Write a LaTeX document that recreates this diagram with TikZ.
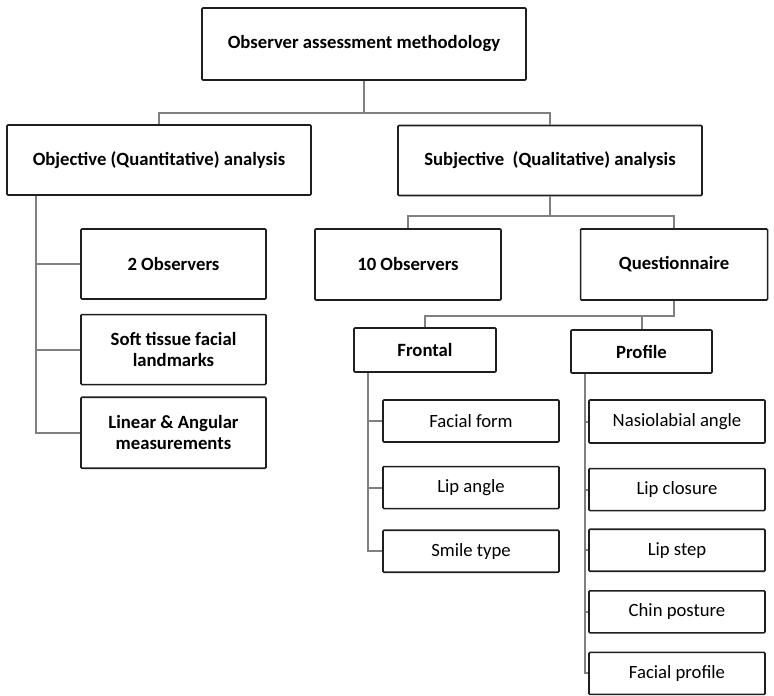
\documentclass[tikz,border=0pt]{standalone}
\usepackage{fontspec}
\setmainfont{Carlito}
\usepackage{tikz}
\usetikzlibrary{positioning}
\definecolor{linkgray}{RGB}{128,128,128}
\definecolor{boxline}{RGB}{30,30,30}
\tikzstyle{basebox} = [draw=boxline, line width=1.6pt, rounded corners=1pt, align=center, inner sep=2pt, font=\fontsize{18.7}{20.5}\selectfont]
\tikzstyle{topbox} = [basebox, font=\fontsize{18.7}{20.5}\selectfont\bfseries, minimum width=304pt, minimum height=70pt]
\tikzstyle{midbox} = [basebox, font=\fontsize{18.7}{20.5}\selectfont\bfseries, minimum width=186pt, minimum height=71pt]
\tikzstyle{smallbox} = [basebox, font=\fontsize{18.7}{20.5}\selectfont\bfseries, minimum width=142pt, minimum height=44pt]
\tikzstyle{leaf} = [basebox, minimum width=176pt, minimum height=42pt]
\tikzstyle{link} = [draw=linkgray, line width=2pt]

\begin{document}
\begin{tikzpicture}[x=1pt, y=-1pt]
\useasboundingbox (0,0) rectangle (774,696);
% upper levels
\node (root) [topbox, minimum width=324pt, minimum height=72pt] at (364,44) {Observer assessment methodology};
\node (obj) [topbox] at (159,160) {Objective (Quantitative) analysis};
\node (subj) [topbox] at (550,160.5) {Subjective\ \ (Qualitative) analysis};
% objective branch
\node (obs2) [midbox, minimum width=185pt, minimum height=70pt] at (173.5,264) {2 Observers};
\node (soft) [midbox, minimum width=185pt, minimum height=70pt, below=14pt of obs2] {Soft tissue facial\\landmarks};
\node (linear) [midbox, minimum width=185pt, below=11pt of soft] {Linear \& Angular\\measurements};
% subjective branch
\node (obs10) [midbox] at (408,264.5) {10 Observers};
\node (quest) [midbox, minimum width=187pt, right=78pt of obs10] {Questionnaire};
\node (frontal) [smallbox] at (425,350) {Frontal};
\node (profile) [smallbox, minimum width=141pt, minimum height=43pt] at (641.5,351.5) {Profile};
% frontal items
\node (facial) [leaf] at (471,421) {Facial form};
\node (lipang) [leaf, below=23pt of facial] {Lip angle};
\node (smile) [leaf, below=20pt of lipang] {Smile type};
% profile items
\node (nasio) [leaf, minimum height=43pt] at (677,421.5) {Nasiolabial angle};
\node (lipclo) [leaf, below=24pt of nasio] {Lip closure};
\node (lipstep) [leaf, below=17pt of lipclo] {Lip step};
\node (chin) [leaf, below=18pt of lipstep] {Chin posture};
\node (facprof) [leaf, below=18pt of chin] {Facial profile};
% connectors
\draw [link] (root.south) -- ++(0,32) -| (obj.north);
\draw [link] (root.south) -- ++(0,32) -| (subj.north);
\draw [link] (subj.south) -- ++(0,19.5) -| (obs10.north);
\draw [link] (subj.south) -- ++(0,19.5) -| (quest.north);
\draw [link] (quest.south) -- ++(0,15) -| (frontal.north);
\draw [link] (quest.south) -- ++(0,15) -| (profile.north);
\draw [link] ([xshift=30pt]obj.south west) |- (linear.west);
\draw [link] ([xshift=30pt]obj.south west) |- (obs2.west);
\draw [link] ([xshift=30pt]obj.south west) |- (soft.west);
\draw [link] ([xshift=15pt]frontal.south west) |- (smile.west);
\draw [link] ([xshift=15pt]frontal.south west) |- (facial.west);
\draw [link] ([xshift=15pt]frontal.south west) |- (lipang.west);
\foreach \item in {nasio, lipclo, lipstep, chin, facprof}
  \draw [link] ([xshift=15pt]profile.south west) |- (\item.west);
\end{tikzpicture}
\end{document}
